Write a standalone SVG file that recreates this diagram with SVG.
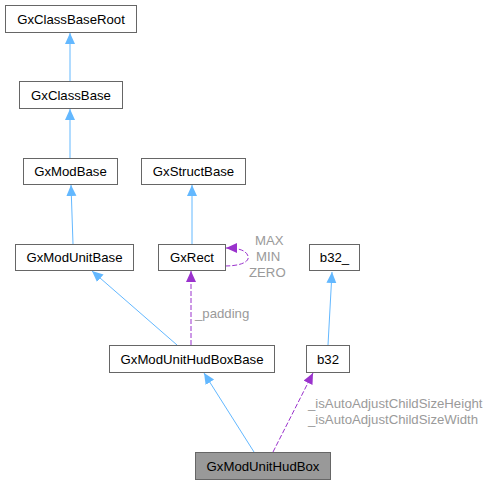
<svg xmlns="http://www.w3.org/2000/svg" width="489" height="484" viewBox="0 0 489 484">
<defs>
<style>
.box{fill:#fff;stroke:#666;stroke-width:1}
.t{font-family:"Liberation Sans",Arial,sans-serif;font-size:13.2px;fill:#000;text-anchor:middle}
.lbl{font-family:"Liberation Sans",Arial,sans-serif;font-size:13.2px;fill:#9a9a9a}
.inh{fill:none;stroke:#63b8ff;stroke-width:1}
.use{fill:none;stroke:#9a32cd;stroke-width:1;stroke-dasharray:5,2}
</style>
<marker id="ab" markerWidth="12" markerHeight="12" refX="11" refY="5" orient="auto" markerUnits="userSpaceOnUse"><path d="M0,0 L11,5 L0,10 Z" fill="#63b8ff"/></marker>
<marker id="ap" markerWidth="12" markerHeight="12" refX="11" refY="5" orient="auto" markerUnits="userSpaceOnUse"><path d="M0,0 L11,5 L0,10 Z" fill="#9a32cd"/></marker>
</defs>
<rect width="489" height="484" fill="#fff"/>
<g id="connectors">
<path class="inh" d="M70,81 L70,33" marker-end="url(#ab)"/>
<path class="inh" d="M70,158 L70,109" marker-end="url(#ab)"/>
<path class="inh" d="M73,244 L71,185" marker-end="url(#ab)"/>
<path class="inh" d="M192,244 L192,185" marker-end="url(#ab)"/>
<path class="inh" d="M177,345 L92,271" marker-end="url(#ab)"/>
<path class="inh" d="M328,345 L332,272" marker-end="url(#ab)"/>
<path class="inh" d="M254,452 L204,373" marker-end="url(#ab)"/>
<path class="use" d="M191,345 L191,271" marker-end="url(#ap)"/>
<path class="use" d="M273,452 L313,373" marker-end="url(#ap)"/>
<path class="use" d="M225,266 C240,266 250,262 248,256 C246,250 238,248 226,248" marker-end="url(#ap)"/>
<text class="lbl" x="195" y="318">_padding</text>
<text class="lbl" x="255" y="245">MAX</text>
<text class="lbl" x="256" y="261">MIN</text>
<text class="lbl" x="249" y="277">ZERO</text>
<text class="lbl" x="308" y="408">_isAutoAdjustChildSizeHeight</text>
<text class="lbl" x="308" y="424">_isAutoAdjustChildSizeWidth</text>
</g>
<g id="GxClassBaseRoot"><rect class="box" x="5.5" y="5.5" width="131" height="27"/><text class="t" x="71" y="23.5">GxClassBaseRoot</text></g>
<g id="GxClassBase"><rect class="box" x="19.5" y="81.5" width="103" height="27"/><text class="t" x="71" y="99.5">GxClassBase</text></g>
<g id="GxModBase"><rect class="box" x="23.5" y="158.5" width="94" height="26"/><text class="t" x="70.5" y="176">GxModBase</text></g>
<g id="GxStructBase"><rect class="box" x="141.5" y="158.5" width="104" height="26"/><text class="t" x="193.5" y="176">GxStructBase</text></g>
<g id="GxModUnitBase"><rect class="box" x="15.5" y="244.5" width="118" height="26"/><text class="t" x="74.5" y="262">GxModUnitBase</text></g>
<g id="GxRect"><rect class="box" x="158.5" y="244.5" width="67" height="26"/><text class="t" x="192" y="262">GxRect</text></g>
<g id="b32_"><rect class="box" x="309.5" y="244.5" width="50" height="26"/><text class="t" x="334.5" y="262">b32_</text></g>
<g id="GxModUnitHudBoxBase"><rect class="box" x="109.5" y="345.5" width="165" height="27"/><text class="t" x="192" y="363.5">GxModUnitHudBoxBase</text></g>
<g id="b32"><rect class="box" x="306.5" y="345.5" width="43" height="27"/><text class="t" x="328" y="363.5">b32</text></g>
<g id="GxModUnitHudBox"><rect class="box" x="195.5" y="452.5" width="135" height="27" style="fill:#999"/><text class="t" x="263" y="470.5">GxModUnitHudBox</text></g>
</svg>
